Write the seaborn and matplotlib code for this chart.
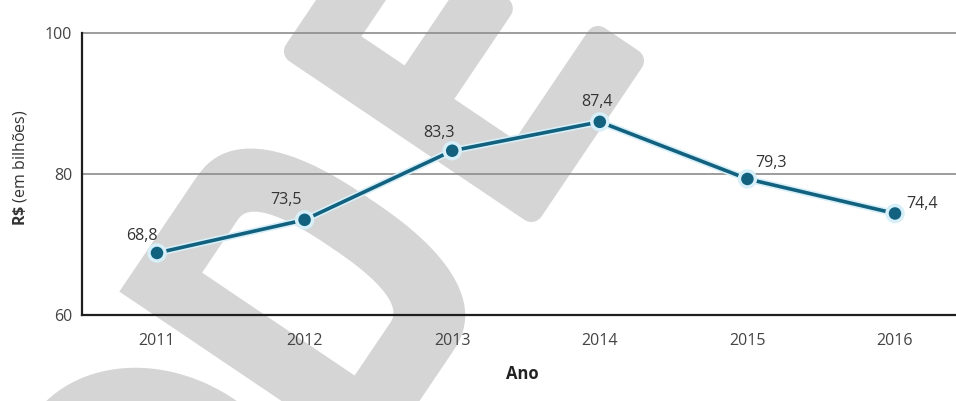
import numpy as np
import pandas as pd
import matplotlib
matplotlib.use("Agg")
import matplotlib.pyplot as plt
import matplotlib.patheffects as pe
from matplotlib.path import Path
from matplotlib.patches import PathPatch
from matplotlib.transforms import Affine2D
import seaborn as sns

# Receita anual (R$ bilhões)
anos = [2011, 2012, 2013, 2014, 2015, 2016]
valores = [68.8, 73.5, 83.3, 87.4, 79.3, 74.4]
yticks = [60, 80, 100]
rotulos = [f"{v:.1f}".replace(".", ",") for v in valores]

sns.set_theme(style="white")
plt.rcParams["font.family"] = ["Open Sans", "DejaVu Sans"]
plt.rcParams["mathtext.fontset"] = "custom"
plt.rcParams["mathtext.rm"] = "Open Sans"
plt.rcParams["mathtext.bf"] = "Open Sans:bold"

W, H = 956, 401
fig = plt.figure(figsize=(W / 100, H / 100), dpi=100)
fig.patch.set_facecolor("white")
ax = fig.add_axes([82 / W, 1 - 315 / H, 1 - 82 / W, (315 - 33) / H])
ax.set_facecolor("none")

# ---- light grey "DE" stamp behind the chart (pixel geometry, rotated letters)
ang = np.deg2rad(34)
M = np.array([[np.sin(ang), np.cos(ang), 0.0],
              [np.cos(ang), -np.sin(ang), H],
              [0.0, 0.0, 1.0]])
to_fig = Affine2D(M).scale(1 / 100) + fig.dpi_scale_trans
stamp = "#d5d5d5"


def half_round(cx, cy, rx, ry, n=2.5, num=60):
    t = np.linspace(-np.pi / 2, np.pi / 2, num)
    c, s = np.cos(t), np.sin(t)
    x = cx + rx * np.sign(c) * np.abs(c) ** (2 / n)
    y = cy + ry * np.sign(s) * np.abs(s) ** (2 / n)
    return list(zip(x, y))


def ellipse(cx, cy, rx, ry, num=120):
    t = np.linspace(0, 2 * np.pi, num, endpoint=False)
    return list(zip(cx + rx * np.cos(t), cy + ry * np.sin(t)))


def compound(*rings):
    verts, codes = [], []
    for ring in rings:
        verts += list(ring) + [ring[0]]
        codes += [Path.MOVETO] + [Path.LINETO] * (len(ring) - 1) + [Path.CLOSEPOLY]
    return Path(verts, codes)


d_out = [(-175, 262), (-40, 262)] + half_round(-40, 417, 82, 155) + [(-40, 572), (-175, 572)]
d_in = ([(-113, 320), (-50, 320)] + half_round(-50, 412, 30, 92) + [(-50, 504), (-113, 504)])[::-1]
o_out = ellipse(-330, 417, 130, 157)
o_in = ellipse(-330, 417, 70, 97)[::-1]
e_shape = [(123, 274), (288, 274), (288, 308), (160, 308), (160, 384), (273, 384),
           (273, 420), (160, 420), (160, 517), (303, 517), (303, 558), (123, 558)]

for p, lw in [(compound(d_out, d_in), 0), (compound(o_out, o_in), 0), (compound(e_shape), 24 * 0.72)]:
    patch = PathPatch(p, facecolor=stamp, edgecolor=stamp, linewidth=lw,
                      joinstyle="round", transform=to_fig, zorder=-5)
    fig.add_artist(patch)

# ---- grid lines
for yv in [80, 100]:
    ax.axhline(yv, color="#8c8c8c", linewidth=1.2, zorder=1, clip_on=False)

# ---- series
df = pd.DataFrame({"Ano": anos, "Valor": valores})
cor = "#12617f"
halo = [pe.Stroke(linewidth=5, foreground="#d6eff8"), pe.Normal()]
sns.lineplot(data=df, x="Ano", y="Valor", ax=ax, color=cor, linewidth=2.6,
             marker="o", markersize=9, markeredgewidth=0, path_effects=halo,
             zorder=3, clip_on=False)

# value labels (offsets in pixels from each point)
desloc = [(-15, -16.5), (-18.5, -20), (-13, -18), (-3, -20), (23.5, -15.5), (27.5, -9.5)]
for x, y, txt, (dx, dy) in zip(anos, valores, rotulos, desloc):
    ax.annotate(txt, (x, y), xytext=(dx * 0.72, -dy * 0.72), textcoords="offset points",
                ha="center", va="center", fontsize=11.5, color="#333333", zorder=4)

# ---- axes styling
ax.set_xlim(2011 - 75 / 147.6, 2016 + 61 / 147.6)
ax.set_ylim(60, 100)
ax.set_xticks(anos)
ax.set_xticklabels([str(a) for a in anos])
ax.set_yticks(yticks)
for s in ["top", "right"]:
    ax.spines[s].set_visible(False)
for s in ["left", "bottom"]:
    ax.spines[s].set_color("#1e1e1e")
    ax.spines[s].set_linewidth(1.6)
    ax.spines[s].set_zorder(2)
ax.tick_params(axis="both", direction="out", length=5, width=1.3, color="#1e1e1e",
               labelsize=11.5, labelcolor="#444444")
ax.tick_params(axis="x", pad=8)
ax.tick_params(axis="y", pad=2)

ax.set_xlabel("Ano", fontsize=12, fontweight="bold", color="#222222", va="center")
ax.xaxis.set_label_coords((522 - 82) / (W - 82), (315 - 374) / 282)
ax.set_ylabel(r"$\bf{R\$}$ (em bilhões)", fontsize=11.5, color="#333333", va="center")
ax.yaxis.set_label_coords((20 - 82) / (W - 82), (315 - 168) / 282)

fig.savefig("out.png", dpi=100, facecolor="white")
